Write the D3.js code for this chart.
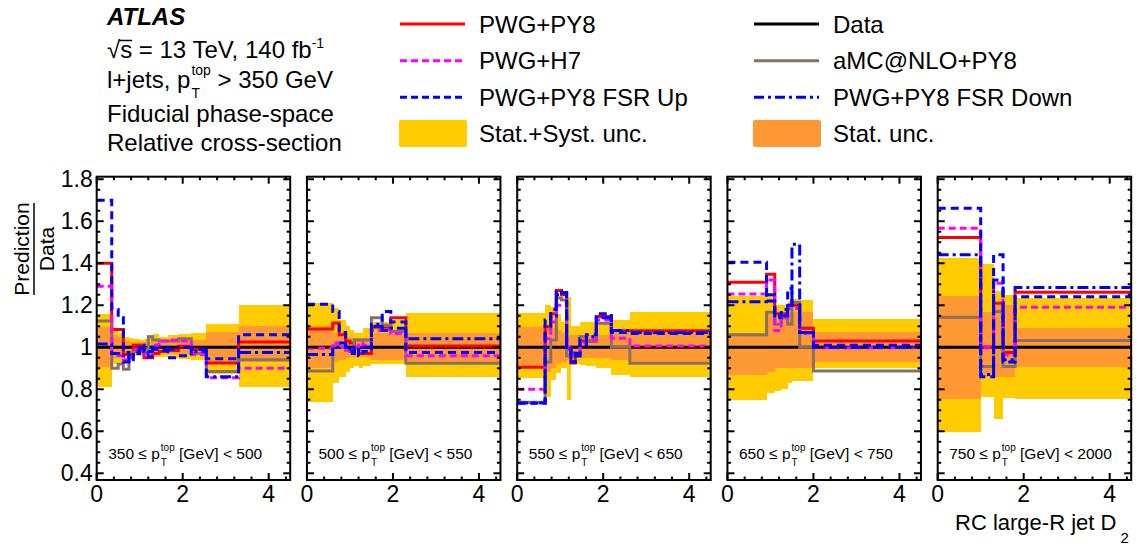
<!DOCTYPE html>
<html><head><meta charset="utf-8">
<script src="https://cdn.jsdelivr.net/npm/d3@7"></script>
<style>
body{margin:0;background:#fff}
text{font-family:"Liberation Sans",Arial,Helvetica,sans-serif;fill:#000}
</style>
</head><body>
<svg id="chart" width="1140" height="547"></svg>
<script>
// ---------------- DATA ----------------
const ptLow  = [350, 500, 550, 650, 750];
const ptHigh = [500, 550, 650, 750, 2000];

const binEdges = [
  [0, 0.35, 0.5, 0.62, 0.75, 0.85, 1.0, 1.1, 1.2, 1.3, 1.45, 1.65, 1.9, 2.2, 2.55, 3.3, 4.5],
  [0, 0.6, 0.75, 0.9, 1.0, 1.1, 1.2, 1.3, 1.5, 1.75, 1.95, 2.3, 4.5],
  [0, 0.65, 0.78, 0.91, 1.03, 1.15, 1.25, 1.35, 1.46, 1.61, 1.84, 2.19, 2.62, 4.5],
  [0, 0.91, 1.1, 1.25, 1.4, 1.5, 1.68, 2.0, 4.5],
  [0, 1.0, 1.3, 1.52, 1.8, 4.5]
];

const dataRatio = 1;

const pwgPy8 = [
  [1.40, 1.085, 1.085, 0.965, 0.965, 1.01, 1.01, 0.95, 0.95, 0.97, 0.98, 0.985, 1.005, 0.99, 0.925, 1.025],
  [1.087, 1.115, 1.06, 1.03, 1.02, 1.0, 0.97, 0.97, 1.095, 1.095, 1.14, 1.006],
  [0.905, 1.098, 1.16, 1.27, 1.25, 0.99, 0.925, 0.96, 1.03, 1.03, 1.146, 1.078, 1.078],
  [1.31, 1.348, 1.16, 1.16, 1.2, 1.2, 1.09, 1.03],
  [1.522, 1.0, 1.21, 0.975, 1.262]
];
const pwgH7 = [
  [1.29, 0.97, 0.96, 0.94, 0.95, 0.99, 0.99, 0.97, 0.975, 1.01, 1.03, 1.035, 1.03, 0.965, 0.855, 0.90],
  [0.995, 1.02, 1.0, 0.99, 0.98, 1.0, 1.02, 1.01, 1.08, 1.085, 1.065, 0.96],
  [0.80, 1.04, 1.12, 1.2, 1.2, 1.0, 0.97, 0.97, 1.02, 1.035, 1.13, 1.043, 1.006],
  [1.254, 1.32, 1.08, 1.14, 1.185, 1.185, 1.067, 0.998],
  [1.567, 1.0, 1.305, 0.963, 1.19]
];
const fsrUp = [
  [1.70, 1.18, 1.14, 0.975, 0.94, 0.98, 1.01, 0.98, 0.955, 0.99, 0.985, 0.95, 0.96, 0.99, 0.945, 1.06],
  [1.205, 1.17, 1.07, 1.0, 0.98, 1.0, 0.96, 0.98, 1.1, 1.17, 1.12, 0.975],
  [0.733, 1.13, 1.18, 1.265, 1.26, 1.0, 0.93, 0.97, 1.04, 1.06, 1.16, 1.07, 1.065],
  [1.405, 1.22, 1.15, 1.18, 1.28, 1.2, 1.07, 1.01],
  [1.662, 0.86, 1.44, 0.93, 1.24]
];
const fsrDown = [
  [1.015, 0.97, 0.97, 0.93, 0.95, 0.97, 1.0, 0.99, 0.98, 1.0, 1.0, 0.99, 1.0, 0.98, 0.86, 0.975],
  [0.965, 1.0, 1.02, 1.0, 0.97, 1.0, 0.99, 1.0, 1.11, 1.08, 1.09, 1.04],
  [0.735, 1.1, 1.15, 1.25, 1.26, 0.99, 0.93, 0.96, 1.01, 1.05, 1.14, 1.08, 1.07],
  [1.217, 1.25, 1.14, 1.15, 1.2, 1.49, 1.07, 1.0],
  [1.44, 0.87, 1.32, 0.94, 1.284]
];
const amcPy8 = [
  [1.125, 0.90, 0.92, 0.895, 0.95, 0.98, 0.985, 0.99, 1.05, 1.035, 1.03, 1.03, 1.04, 0.97, 0.885, 0.94],
  [0.887, 1.01, 1.0, 0.985, 0.98, 1.035, 1.035, 1.035, 1.14, 1.105, 1.075, 0.924],
  [0.738, 0.93, 1.035, 1.235, 1.225, 0.96, 0.975, 0.96, 1.05, 1.027, 1.114, 1.0, 0.924],
  [1.059, 1.167, 1.11, 1.15, 1.11, 1.213, 1.0, 0.887],
  [1.143, 0.908, 1.17, 0.908, 1.032]
];

// total (stat+syst) uncertainty band: lower / upper edges
const totLow = [
  [0.81, 0.92, 0.93, 0.95, 0.955, 0.96, 0.96, 0.96, 0.955, 0.955, 0.955, 0.95, 0.945, 0.94, 0.875, 0.81],
  [0.74, 0.83, 0.86, 0.88, 0.90, 0.91, 0.90, 0.91, 0.92, 0.92, 0.92, 0.857],
  [0.852, 0.765, 0.845, 0.876, 0.90, 0.75, 0.92, 0.92, 0.916, 0.91, 0.90, 0.87, 0.86],
  [0.75, 0.78, 0.79, 0.80, 0.83, 0.84, 0.84, 0.90],
  [0.598, 0.765, 0.66, 0.757, 0.752]
];
const totHigh = [
  [1.16, 1.08, 1.07, 1.05, 1.045, 1.04, 1.035, 1.04, 1.06, 1.065, 1.05, 1.06, 1.065, 1.07, 1.11, 1.20],
  [1.21, 1.185, 1.13, 1.10, 1.08, 1.07, 1.07, 1.09, 1.12, 1.12, 1.13, 1.165],
  [1.165, 1.20, 1.19, 1.16, 1.12, 1.24, 1.10, 1.10, 1.12, 1.12, 1.12, 1.13, 1.17],
  [1.245, 1.245, 1.20, 1.20, 1.22, 1.23, 1.225, 1.133],
  [1.424, 1.397, 1.27, 1.25, 1.233]
];
// statistical uncertainty band: lower / upper edges
const statLow = [
  [0.905, 0.95, 0.96, 0.97, 0.975, 0.975, 0.975, 0.975, 0.975, 0.975, 0.975, 0.97, 0.97, 0.97, 0.93, 0.93],
  [0.90, 0.93, 0.94, 0.95, 0.955, 0.955, 0.955, 0.955, 0.94, 0.94, 0.94, 0.93],
  [0.90, 0.88, 0.90, 0.92, 0.93, 0.94, 0.95, 0.95, 0.95, 0.95, 0.95, 0.94, 0.93],
  [0.87, 0.88, 0.90, 0.90, 0.90, 0.90, 0.90, 0.93],
  [0.752, 0.86, 0.86, 0.86, 0.908]
];
const statHigh = [
  [1.095, 1.06, 1.05, 1.03, 1.025, 1.025, 1.025, 1.025, 1.025, 1.025, 1.03, 1.035, 1.035, 1.035, 1.075, 1.10],
  [1.10, 1.07, 1.06, 1.05, 1.045, 1.045, 1.045, 1.045, 1.07, 1.07, 1.07, 1.07],
  [1.095, 1.10, 1.09, 1.08, 1.07, 1.06, 1.06, 1.06, 1.06, 1.06, 1.06, 1.07, 1.075],
  [1.065, 1.16, 1.17, 1.17, 1.17, 1.17, 1.17, 1.075],
  [1.244, 1.17, 1.20, 1.20, 1.09]
];

const yTickValues = [0.4, 0.6, 0.8, 1.0, 1.2, 1.4, 1.6, 1.8];
const yTickLabels = ["0.4", "0.6", "0.8", "1", "1.2", "1.4", "1.6", "1.8"];
const xTickValues = [0, 2, 4];
const xTickLabels = ["0", "2", "4"];

// ---------------- STYLES ----------------
const cYellow = "#ffcc00", cOrange = "#ff9933";
const series = [
  {name: "PWG+PY8", vals: pwgPy8, color: "#ff0000", dash: null},
  {name: "aMC@NLO+PY8", vals: amcPy8, color: "#8c6e62", dash: null},
  {name: "PWG+H7", vals: pwgH7, color: "#ff00ff", dash: "7,4"},
  {name: "PWG+PY8 FSR Up", vals: fsrUp, color: "#0000ff", dash: "8,5"},
  {name: "PWG+PY8 FSR Down", vals: fsrDown, color: "#0000ff", dash: "11,4,3,4"}
];

// ---------------- LAYOUT ----------------
const svg = d3.select("#chart");
const panelLeft0 = 96.7, panelStep = 210.25, panelW = 193.5;
const plotTop = 176.7, plotBottom = 480;
const y = d3.scaleLinear().domain([0.368, 1.812]).range([plotBottom, plotTop]);
const lw = 3;

function subsup(g, x0, y0, pre, sup, sub, post, fs, ss, dUp, dDown) {
  const t = g.append("text").attr("x", x0).attr("y", y0).style("font-size", fs + "px").text(pre);
  const w = t.node().getComputedTextLength();
  const a = g.append("text").attr("x", x0 + w + 1).attr("y", y0 - dUp).style("font-size", ss + "px").text(sup);
  const b = g.append("text").attr("x", x0 + w + 1).attr("y", y0 + dDown).style("font-size", ss + "px").text(sub);
  const w2 = Math.max(a.node().getComputedTextLength(), b.node().getComputedTextLength());
  g.append("text").attr("x", x0 + w + 1 + w2).attr("y", y0).style("font-size", fs + "px")
    .style("white-space", "pre").text(post);
}

ptLow.forEach((lo, p) => {
  const left = panelLeft0 + p * panelStep;
  const x = d3.scaleLinear().domain([0, 4.5]).range([0, panelW]);
  const g = svg.append("g").attr("transform", `translate(${left},0)`);
  const clipId = "clip" + p;
  g.append("clipPath").attr("id", clipId).append("rect")
    .attr("x", 0).attr("y", plotTop).attr("width", panelW).attr("height", plotBottom - plotTop);
  const pg = g.append("g").attr("clip-path", `url(#${clipId})`);
  const edges = binEdges[p];
  const idx = d3.range(edges.length - 1);

  pg.selectAll("rect.tot").data(idx).join("rect").attr("class", "tot")
    .attr("x", i => x(edges[i])).attr("width", i => x(edges[i + 1]) - x(edges[i]))
    .attr("y", i => y(totHigh[p][i])).attr("height", i => y(totLow[p][i]) - y(totHigh[p][i]))
    .attr("fill", cYellow).attr("shape-rendering", "crispEdges");
  pg.selectAll("rect.stat").data(idx).join("rect").attr("class", "stat")
    .attr("x", i => x(edges[i])).attr("width", i => x(edges[i + 1]) - x(edges[i]))
    .attr("y", i => y(statHigh[p][i])).attr("height", i => y(statLow[p][i]) - y(statHigh[p][i]))
    .attr("fill", cOrange).attr("shape-rendering", "crispEdges");

  pg.append("line").attr("x1", x(0)).attr("x2", x(4.5))
    .attr("y1", y(dataRatio)).attr("y2", y(dataRatio))
    .attr("stroke", "#000").attr("stroke-width", lw);

  const stepLine = d3.line().x(d => x(d[0])).y(d => y(d[1])).curve(d3.curveStepAfter);
  series.forEach(s => {
    const v = s.vals[p];
    const pts = idx.map(i => [edges[i], v[i]]);
    pts.push([edges[edges.length - 1], v[v.length - 1]]);
    pg.append("path").attr("d", stepLine(pts)).attr("fill", "none")
      .attr("stroke", s.color).attr("stroke-width", lw)
      .attr("stroke-dasharray", s.dash);
  });

  g.append("rect").attr("x", 0).attr("y", plotTop).attr("width", panelW)
    .attr("height", plotBottom - plotTop).attr("fill", "none")
    .attr("stroke", "#000").attr("stroke-width", 2);

  const tk = g.append("g").attr("stroke", "#000").attr("stroke-width", 2);
  d3.range(0.4, 1.8001, 0.05).forEach(v => {
    const major = Math.abs(v * 5 - Math.round(v * 5)) < 1e-6;
    const L = major ? 7 : 3.5;
    tk.append("line").attr("x1", 0).attr("x2", L).attr("y1", y(v)).attr("y2", y(v));
    tk.append("line").attr("x1", panelW).attr("x2", panelW - L).attr("y1", y(v)).attr("y2", y(v));
  });
  d3.range(0, 4.5, 0.4).forEach(v => {
    const major = Math.abs(v / 2 - Math.round(v / 2)) < 1e-6;
    const L = major ? 7 : 3.5;
    tk.append("line").attr("x1", x(v)).attr("x2", x(v)).attr("y1", plotBottom).attr("y2", plotBottom - L);
    tk.append("line").attr("x1", x(v)).attr("x2", x(v)).attr("y1", plotTop).attr("y2", plotTop + L);
  });

  xTickValues.forEach((v, i) => {
    g.append("text").attr("x", x(v)).attr("y", 502).attr("text-anchor", "middle")
      .style("font-size", "23px").text(xTickLabels[i]);
  });
  if (p === 0) {
    yTickValues.forEach((v, i) => {
      g.append("text").attr("x", -4).attr("y", y(v) + 8).attr("text-anchor", "end")
        .style("font-size", "23px").text(yTickLabels[i]);
    });
  }

  subsup(g, 11.5, 459, `${lo} \u2264 p`, "top", "T", ` [GeV] < ${ptHigh[p]}`, 15.5, 10, 8, 7);
});

// ---------------- HEADER ----------------
const hx = 107;
svg.append("text").attr("x", hx).attr("y", 25).style("font-size", "24px")
  .style("font-weight", "bold").style("font-style", "italic").text("ATLAS");
{
  const t1 = svg.append("text").attr("x", hx).attr("y", 58).style("font-size", "24px").style("white-space", "pre");
  t1.append("tspan").text("\u221As = 13 TeV, 140 fb");
  t1.append("tspan").attr("dy", -10).style("font-size", "14px").text("-1");
  const sq = svg.append("text").attr("x", hx).attr("y", 58).style("font-size", "24px").attr("opacity", 0).text("\u221A");
  const ws = sq.node().getComputedTextLength();
  svg.append("line").attr("x1", hx + ws - 1).attr("x2", hx + ws + 12).attr("y1", 40.5).attr("y2", 40.5)
    .attr("stroke", "#000").attr("stroke-width", 1.5);
}
subsup(svg, hx, 88, "l+jets, p", "top", "T", " > 350 GeV", 24, 14, 13, 10);
svg.append("text").attr("x", hx).attr("y", 122).style("font-size", "24px").text("Fiducial phase-space");
svg.append("text").attr("x", hx).attr("y", 151).style("font-size", "24px").text("Relative cross-section");

// ---------------- LEGEND ----------------
const legendRows = [
  {col: 0, row: 0, label: "PWG+PY8", color: "#ff0000", dash: null, type: "line"},
  {col: 1, row: 0, label: "Data", color: "#000", dash: null, type: "line"},
  {col: 0, row: 1, label: "PWG+H7", color: "#ff00ff", dash: "7,4", type: "line"},
  {col: 1, row: 1, label: "aMC@NLO+PY8", color: "#8c6e62", dash: null, type: "line"},
  {col: 0, row: 2, label: "PWG+PY8 FSR Up", color: "#0000ff", dash: "7,4", type: "line"},
  {col: 1, row: 2, label: "PWG+PY8 FSR Down", color: "#0000ff", dash: "10,4,3,4", type: "line"},
  {col: 0, row: 3, label: "Stat.+Syst. unc.", color: cYellow, type: "box"},
  {col: 1, row: 3, label: "Stat. unc.", color: cOrange, type: "box"}
];
const legColX = [400, 754], legRowY = [24, 60.7, 97.3, 133.5];
legendRows.forEach(e => {
  const x0 = legColX[e.col], yc = legRowY[e.row];
  if (e.type === "line") {
    svg.append("line").attr("x1", x0).attr("x2", x0 + 65).attr("y1", yc).attr("y2", yc)
      .attr("stroke", e.color).attr("stroke-width", 3).attr("stroke-dasharray", e.dash);
  } else {
    svg.append("rect").attr("x", x0 - 1).attr("y", yc - 13.5).attr("width", 68).attr("height", 27)
      .attr("rx", 2).attr("fill", e.color);
  }
  svg.append("text").attr("x", x0 + 79).attr("y", yc + 8.5).style("font-size", "24px").text(e.label);
});

// ---------------- AXIS TITLES ----------------
{
  const yl = svg.append("g").attr("transform", "translate(0,249) rotate(-90)");
  yl.append("text").attr("x", 0).attr("y", 29).attr("text-anchor", "middle").style("font-size", "21px").text("Prediction");
  yl.append("line").attr("x1", -46).attr("x2", 46).attr("y1", 34).attr("y2", 34).attr("stroke", "#000").attr("stroke-width", 1.5);
  yl.append("text").attr("x", 0).attr("y", 54).attr("text-anchor", "middle").style("font-size", "21px").text("Data");
}
{
  const xt = svg.append("text").attr("x", 955).attr("y", 530).style("font-size", "22px");
  xt.append("tspan").text("RC large-R jet D");
  xt.append("tspan").attr("dy", 13).attr("dx", 4).style("font-size", "15px").text("2");
}
</script>
</body></html>
